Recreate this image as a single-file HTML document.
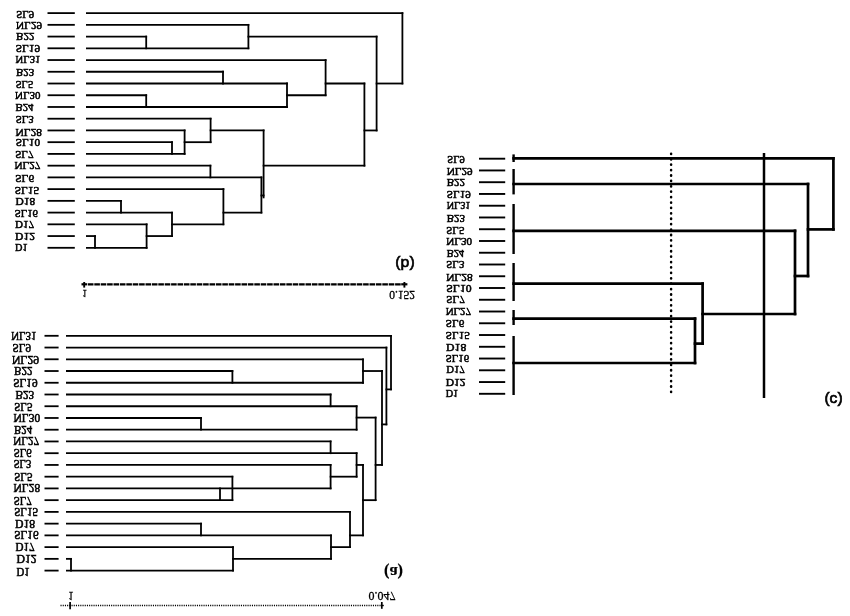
<!DOCTYPE html>
<html><head><meta charset="utf-8"><style>
html,body{margin:0;padding:0;background:#fff;}
svg{display:block;will-change:transform;}
</style></head><body>
<svg width="850" height="616" viewBox="0 0 850 616">
<rect width="850" height="616" fill="#fff"/>
<g stroke="#000" fill="none">
<line x1="47.50" y1="13.10" x2="74.80" y2="13.10" stroke-width="1.8" stroke-linecap="butt"/>
<line x1="86.90" y1="13.10" x2="402.40" y2="13.10" stroke-width="1.8" stroke-linecap="square"/>
<line x1="47.50" y1="24.84" x2="74.80" y2="24.84" stroke-width="1.8" stroke-linecap="butt"/>
<line x1="86.90" y1="24.84" x2="248.40" y2="24.84" stroke-width="1.8" stroke-linecap="square"/>
<line x1="47.50" y1="36.57" x2="74.80" y2="36.57" stroke-width="1.8" stroke-linecap="butt"/>
<line x1="86.90" y1="36.57" x2="146.20" y2="36.57" stroke-width="1.8" stroke-linecap="square"/>
<line x1="47.50" y1="48.30" x2="74.80" y2="48.30" stroke-width="1.8" stroke-linecap="butt"/>
<line x1="86.90" y1="48.30" x2="248.40" y2="48.30" stroke-width="1.8" stroke-linecap="square"/>
<line x1="47.50" y1="60.04" x2="74.80" y2="60.04" stroke-width="1.8" stroke-linecap="butt"/>
<line x1="86.90" y1="60.04" x2="325.60" y2="60.04" stroke-width="1.8" stroke-linecap="square"/>
<line x1="47.50" y1="71.77" x2="74.80" y2="71.77" stroke-width="1.8" stroke-linecap="butt"/>
<line x1="86.90" y1="71.77" x2="223.00" y2="71.77" stroke-width="1.8" stroke-linecap="square"/>
<line x1="47.50" y1="83.51" x2="74.80" y2="83.51" stroke-width="1.8" stroke-linecap="butt"/>
<line x1="86.90" y1="83.51" x2="287.00" y2="83.51" stroke-width="1.8" stroke-linecap="square"/>
<line x1="47.50" y1="95.24" x2="74.80" y2="95.24" stroke-width="1.8" stroke-linecap="butt"/>
<line x1="86.90" y1="95.24" x2="146.20" y2="95.24" stroke-width="1.8" stroke-linecap="square"/>
<line x1="47.50" y1="106.98" x2="74.80" y2="106.98" stroke-width="1.8" stroke-linecap="butt"/>
<line x1="86.90" y1="106.98" x2="287.00" y2="106.98" stroke-width="1.8" stroke-linecap="square"/>
<line x1="47.50" y1="118.71" x2="74.80" y2="118.71" stroke-width="1.8" stroke-linecap="butt"/>
<line x1="86.90" y1="118.71" x2="210.60" y2="118.71" stroke-width="1.8" stroke-linecap="square"/>
<line x1="47.50" y1="130.45" x2="74.80" y2="130.45" stroke-width="1.8" stroke-linecap="butt"/>
<line x1="86.90" y1="130.45" x2="184.60" y2="130.45" stroke-width="1.8" stroke-linecap="square"/>
<line x1="47.50" y1="142.18" x2="74.80" y2="142.18" stroke-width="1.8" stroke-linecap="butt"/>
<line x1="86.90" y1="142.18" x2="172.00" y2="142.18" stroke-width="1.8" stroke-linecap="square"/>
<line x1="47.50" y1="153.92" x2="74.80" y2="153.92" stroke-width="1.8" stroke-linecap="butt"/>
<line x1="86.90" y1="153.92" x2="184.60" y2="153.92" stroke-width="1.8" stroke-linecap="square"/>
<line x1="47.50" y1="165.66" x2="74.80" y2="165.66" stroke-width="1.8" stroke-linecap="butt"/>
<line x1="86.90" y1="165.66" x2="210.40" y2="165.66" stroke-width="1.8" stroke-linecap="square"/>
<line x1="47.50" y1="177.39" x2="74.80" y2="177.39" stroke-width="1.8" stroke-linecap="butt"/>
<line x1="86.90" y1="177.39" x2="261.40" y2="177.39" stroke-width="1.8" stroke-linecap="square"/>
<line x1="47.50" y1="189.12" x2="74.80" y2="189.12" stroke-width="1.8" stroke-linecap="butt"/>
<line x1="86.90" y1="189.12" x2="223.40" y2="189.12" stroke-width="1.8" stroke-linecap="square"/>
<line x1="47.50" y1="200.86" x2="74.80" y2="200.86" stroke-width="1.8" stroke-linecap="butt"/>
<line x1="86.90" y1="200.86" x2="121.00" y2="200.86" stroke-width="1.8" stroke-linecap="square"/>
<line x1="47.50" y1="212.59" x2="74.80" y2="212.59" stroke-width="1.8" stroke-linecap="butt"/>
<line x1="86.90" y1="212.59" x2="172.00" y2="212.59" stroke-width="1.8" stroke-linecap="square"/>
<line x1="47.50" y1="224.33" x2="74.80" y2="224.33" stroke-width="1.8" stroke-linecap="butt"/>
<line x1="86.90" y1="224.33" x2="146.60" y2="224.33" stroke-width="1.8" stroke-linecap="square"/>
<line x1="47.50" y1="236.06" x2="74.80" y2="236.06" stroke-width="1.8" stroke-linecap="butt"/>
<line x1="86.90" y1="236.06" x2="95.00" y2="236.06" stroke-width="1.8" stroke-linecap="square"/>
<line x1="47.50" y1="247.80" x2="74.80" y2="247.80" stroke-width="1.8" stroke-linecap="butt"/>
<line x1="86.90" y1="247.80" x2="146.60" y2="247.80" stroke-width="1.8" stroke-linecap="square"/>
<line x1="402.40" y1="13.10" x2="402.40" y2="83.51" stroke-width="1.8" stroke-linecap="square"/>
<line x1="376.60" y1="83.51" x2="402.40" y2="83.51" stroke-width="1.8" stroke-linecap="square"/>
<line x1="248.40" y1="24.84" x2="248.40" y2="48.30" stroke-width="1.8" stroke-linecap="square"/>
<line x1="146.20" y1="36.57" x2="146.20" y2="48.30" stroke-width="1.8" stroke-linecap="square"/>
<line x1="248.40" y1="36.57" x2="376.60" y2="36.57" stroke-width="1.8" stroke-linecap="square"/>
<line x1="376.60" y1="36.57" x2="376.60" y2="130.45" stroke-width="1.8" stroke-linecap="square"/>
<line x1="364.40" y1="130.45" x2="376.60" y2="130.45" stroke-width="1.8" stroke-linecap="square"/>
<line x1="364.40" y1="83.51" x2="364.40" y2="165.66" stroke-width="1.8" stroke-linecap="square"/>
<line x1="325.60" y1="83.51" x2="364.40" y2="83.51" stroke-width="1.8" stroke-linecap="square"/>
<line x1="325.60" y1="60.04" x2="325.60" y2="95.24" stroke-width="1.8" stroke-linecap="square"/>
<line x1="287.00" y1="95.24" x2="325.60" y2="95.24" stroke-width="1.8" stroke-linecap="square"/>
<line x1="287.00" y1="83.51" x2="287.00" y2="106.98" stroke-width="1.8" stroke-linecap="square"/>
<line x1="223.00" y1="71.77" x2="223.00" y2="83.51" stroke-width="1.8" stroke-linecap="square"/>
<line x1="146.20" y1="95.24" x2="146.20" y2="106.98" stroke-width="1.8" stroke-linecap="square"/>
<line x1="263.60" y1="165.66" x2="364.40" y2="165.66" stroke-width="1.8" stroke-linecap="square"/>
<line x1="263.60" y1="130.45" x2="263.60" y2="197.40" stroke-width="1.8" stroke-linecap="square"/>
<line x1="210.60" y1="130.45" x2="263.60" y2="130.45" stroke-width="1.8" stroke-linecap="square"/>
<line x1="210.60" y1="118.71" x2="210.60" y2="142.18" stroke-width="1.8" stroke-linecap="square"/>
<line x1="184.60" y1="142.18" x2="210.60" y2="142.18" stroke-width="1.8" stroke-linecap="square"/>
<line x1="184.60" y1="130.45" x2="184.60" y2="153.92" stroke-width="1.8" stroke-linecap="square"/>
<line x1="172.00" y1="142.18" x2="172.00" y2="153.92" stroke-width="1.8" stroke-linecap="square"/>
<line x1="210.40" y1="165.66" x2="210.40" y2="177.39" stroke-width="1.8" stroke-linecap="square"/>
<line x1="261.40" y1="177.39" x2="261.40" y2="212.59" stroke-width="1.8" stroke-linecap="square"/>
<line x1="261.40" y1="195.50" x2="263.60" y2="195.50" stroke-width="1.8" stroke-linecap="square"/>
<line x1="223.40" y1="212.59" x2="261.40" y2="212.59" stroke-width="1.8" stroke-linecap="square"/>
<line x1="223.40" y1="189.12" x2="223.40" y2="224.33" stroke-width="1.8" stroke-linecap="square"/>
<line x1="172.00" y1="224.33" x2="223.40" y2="224.33" stroke-width="1.8" stroke-linecap="square"/>
<line x1="172.00" y1="212.59" x2="172.00" y2="236.06" stroke-width="1.8" stroke-linecap="square"/>
<line x1="146.60" y1="236.06" x2="172.00" y2="236.06" stroke-width="1.8" stroke-linecap="square"/>
<line x1="146.60" y1="224.33" x2="146.60" y2="247.80" stroke-width="1.8" stroke-linecap="square"/>
<line x1="121.00" y1="200.86" x2="121.00" y2="212.59" stroke-width="1.8" stroke-linecap="square"/>
<line x1="95.00" y1="236.06" x2="95.00" y2="247.80" stroke-width="1.8" stroke-linecap="square"/>
<line x1="87.9" y1="284.3" x2="401.3" y2="284.3" stroke-width="2.2" stroke-dasharray="5.6 0.8"/>
<line x1="84.20" y1="282.00" x2="84.20" y2="287.60" stroke-width="1.9" stroke-linecap="butt"/>
<line x1="81.50" y1="284.30" x2="87.20" y2="284.30" stroke-width="2.2" stroke-linecap="butt"/>
<line x1="404.40" y1="282.00" x2="404.40" y2="287.60" stroke-width="1.9" stroke-linecap="butt"/>
<line x1="401.20" y1="284.30" x2="407.40" y2="284.30" stroke-width="2.2" stroke-linecap="butt"/>
<line x1="44.50" y1="335.80" x2="58.60" y2="335.80" stroke-width="1.8" stroke-linecap="butt"/>
<line x1="66.90" y1="335.80" x2="391.00" y2="335.80" stroke-width="1.8" stroke-linecap="square"/>
<line x1="44.50" y1="347.54" x2="58.60" y2="347.54" stroke-width="1.8" stroke-linecap="butt"/>
<line x1="66.90" y1="347.54" x2="386.40" y2="347.54" stroke-width="1.8" stroke-linecap="square"/>
<line x1="44.50" y1="359.28" x2="58.60" y2="359.28" stroke-width="1.8" stroke-linecap="butt"/>
<line x1="66.90" y1="359.28" x2="363.00" y2="359.28" stroke-width="1.8" stroke-linecap="square"/>
<line x1="44.50" y1="371.02" x2="58.60" y2="371.02" stroke-width="1.8" stroke-linecap="butt"/>
<line x1="66.90" y1="371.02" x2="232.40" y2="371.02" stroke-width="1.8" stroke-linecap="square"/>
<line x1="44.50" y1="382.76" x2="58.60" y2="382.76" stroke-width="1.8" stroke-linecap="butt"/>
<line x1="66.90" y1="382.76" x2="363.00" y2="382.76" stroke-width="1.8" stroke-linecap="square"/>
<line x1="44.50" y1="394.50" x2="58.60" y2="394.50" stroke-width="1.8" stroke-linecap="butt"/>
<line x1="66.90" y1="394.50" x2="330.60" y2="394.50" stroke-width="1.8" stroke-linecap="square"/>
<line x1="44.50" y1="406.24" x2="58.60" y2="406.24" stroke-width="1.8" stroke-linecap="butt"/>
<line x1="66.90" y1="406.24" x2="356.60" y2="406.24" stroke-width="1.8" stroke-linecap="square"/>
<line x1="44.50" y1="417.98" x2="58.60" y2="417.98" stroke-width="1.8" stroke-linecap="butt"/>
<line x1="66.90" y1="417.98" x2="201.00" y2="417.98" stroke-width="1.8" stroke-linecap="square"/>
<line x1="44.50" y1="429.72" x2="58.60" y2="429.72" stroke-width="1.8" stroke-linecap="butt"/>
<line x1="66.90" y1="429.72" x2="356.60" y2="429.72" stroke-width="1.8" stroke-linecap="square"/>
<line x1="44.50" y1="441.46" x2="58.60" y2="441.46" stroke-width="1.8" stroke-linecap="butt"/>
<line x1="66.90" y1="441.46" x2="330.60" y2="441.46" stroke-width="1.8" stroke-linecap="square"/>
<line x1="44.50" y1="453.20" x2="58.60" y2="453.20" stroke-width="1.8" stroke-linecap="butt"/>
<line x1="66.90" y1="453.20" x2="356.60" y2="453.20" stroke-width="1.8" stroke-linecap="square"/>
<line x1="44.50" y1="464.94" x2="58.60" y2="464.94" stroke-width="1.8" stroke-linecap="butt"/>
<line x1="66.90" y1="464.94" x2="330.60" y2="464.94" stroke-width="1.8" stroke-linecap="square"/>
<line x1="44.50" y1="476.68" x2="58.60" y2="476.68" stroke-width="1.8" stroke-linecap="butt"/>
<line x1="66.90" y1="476.68" x2="232.40" y2="476.68" stroke-width="1.8" stroke-linecap="square"/>
<line x1="44.50" y1="488.42" x2="58.60" y2="488.42" stroke-width="1.8" stroke-linecap="butt"/>
<line x1="66.90" y1="488.42" x2="330.60" y2="488.42" stroke-width="1.8" stroke-linecap="square"/>
<line x1="44.50" y1="500.16" x2="58.60" y2="500.16" stroke-width="1.8" stroke-linecap="butt"/>
<line x1="66.90" y1="500.16" x2="232.40" y2="500.16" stroke-width="1.8" stroke-linecap="square"/>
<line x1="44.50" y1="511.90" x2="58.60" y2="511.90" stroke-width="1.8" stroke-linecap="butt"/>
<line x1="66.90" y1="511.90" x2="350.00" y2="511.90" stroke-width="1.8" stroke-linecap="square"/>
<line x1="44.50" y1="523.64" x2="58.60" y2="523.64" stroke-width="1.8" stroke-linecap="butt"/>
<line x1="66.90" y1="523.64" x2="201.00" y2="523.64" stroke-width="1.8" stroke-linecap="square"/>
<line x1="44.50" y1="535.38" x2="58.60" y2="535.38" stroke-width="1.8" stroke-linecap="butt"/>
<line x1="66.90" y1="535.38" x2="331.00" y2="535.38" stroke-width="1.8" stroke-linecap="square"/>
<line x1="44.50" y1="547.12" x2="58.60" y2="547.12" stroke-width="1.8" stroke-linecap="butt"/>
<line x1="66.90" y1="547.12" x2="233.00" y2="547.12" stroke-width="1.8" stroke-linecap="square"/>
<line x1="44.50" y1="558.86" x2="58.60" y2="558.86" stroke-width="1.8" stroke-linecap="butt"/>
<line x1="66.90" y1="558.86" x2="71.00" y2="558.86" stroke-width="1.8" stroke-linecap="square"/>
<line x1="44.50" y1="570.60" x2="58.60" y2="570.60" stroke-width="1.8" stroke-linecap="butt"/>
<line x1="66.90" y1="570.60" x2="233.00" y2="570.60" stroke-width="1.8" stroke-linecap="square"/>
<line x1="391.00" y1="335.80" x2="391.00" y2="389.40" stroke-width="1.8" stroke-linecap="square"/>
<line x1="386.40" y1="389.40" x2="391.00" y2="389.40" stroke-width="1.8" stroke-linecap="square"/>
<line x1="386.40" y1="347.54" x2="386.40" y2="424.40" stroke-width="1.8" stroke-linecap="square"/>
<line x1="382.00" y1="424.40" x2="386.40" y2="424.40" stroke-width="1.8" stroke-linecap="square"/>
<line x1="382.00" y1="371.02" x2="382.00" y2="464.94" stroke-width="1.8" stroke-linecap="square"/>
<line x1="363.00" y1="371.02" x2="382.00" y2="371.02" stroke-width="1.8" stroke-linecap="square"/>
<line x1="363.00" y1="359.28" x2="363.00" y2="382.76" stroke-width="1.8" stroke-linecap="square"/>
<line x1="232.40" y1="371.02" x2="232.40" y2="382.76" stroke-width="1.8" stroke-linecap="square"/>
<line x1="375.60" y1="464.94" x2="382.00" y2="464.94" stroke-width="1.8" stroke-linecap="square"/>
<line x1="375.60" y1="417.60" x2="375.60" y2="500.16" stroke-width="1.8" stroke-linecap="square"/>
<line x1="356.60" y1="417.60" x2="375.60" y2="417.60" stroke-width="1.8" stroke-linecap="square"/>
<line x1="356.60" y1="406.24" x2="356.60" y2="429.72" stroke-width="1.8" stroke-linecap="square"/>
<line x1="330.60" y1="394.50" x2="330.60" y2="406.24" stroke-width="1.8" stroke-linecap="square"/>
<line x1="201.00" y1="417.98" x2="201.00" y2="429.72" stroke-width="1.8" stroke-linecap="square"/>
<line x1="363.00" y1="500.16" x2="375.60" y2="500.16" stroke-width="1.8" stroke-linecap="square"/>
<line x1="363.00" y1="464.94" x2="363.00" y2="535.38" stroke-width="1.8" stroke-linecap="square"/>
<line x1="356.60" y1="464.94" x2="363.00" y2="464.94" stroke-width="1.8" stroke-linecap="square"/>
<line x1="356.60" y1="453.20" x2="356.60" y2="476.68" stroke-width="1.8" stroke-linecap="square"/>
<line x1="330.60" y1="476.68" x2="356.60" y2="476.68" stroke-width="1.8" stroke-linecap="square"/>
<line x1="330.60" y1="441.46" x2="330.60" y2="453.20" stroke-width="1.8" stroke-linecap="square"/>
<line x1="330.60" y1="464.94" x2="330.60" y2="488.42" stroke-width="1.8" stroke-linecap="square"/>
<line x1="232.40" y1="476.68" x2="232.40" y2="500.16" stroke-width="1.8" stroke-linecap="square"/>
<line x1="220.00" y1="488.42" x2="220.00" y2="500.16" stroke-width="1.8" stroke-linecap="square"/>
<line x1="350.00" y1="535.38" x2="363.00" y2="535.38" stroke-width="1.8" stroke-linecap="square"/>
<line x1="350.00" y1="511.90" x2="350.00" y2="547.12" stroke-width="1.8" stroke-linecap="square"/>
<line x1="331.00" y1="547.12" x2="350.00" y2="547.12" stroke-width="1.8" stroke-linecap="square"/>
<line x1="331.00" y1="535.38" x2="331.00" y2="558.86" stroke-width="1.8" stroke-linecap="square"/>
<line x1="201.00" y1="523.64" x2="201.00" y2="535.38" stroke-width="1.8" stroke-linecap="square"/>
<line x1="233.00" y1="558.86" x2="331.00" y2="558.86" stroke-width="1.8" stroke-linecap="square"/>
<line x1="233.00" y1="547.12" x2="233.00" y2="570.60" stroke-width="1.8" stroke-linecap="square"/>
<line x1="71.00" y1="558.86" x2="71.00" y2="570.60" stroke-width="1.8" stroke-linecap="square"/>
<line x1="60.5" y1="605.5" x2="381" y2="605.5" stroke-width="1.4" stroke-dasharray="1.1 1.1"/>
<line x1="70.10" y1="602.00" x2="70.10" y2="609.20" stroke-width="1.7" stroke-linecap="butt"/>
<line x1="381.80" y1="602.00" x2="381.80" y2="608.80" stroke-width="1.7" stroke-linecap="butt"/>
<line x1="381.00" y1="605.50" x2="383.80" y2="605.50" stroke-width="1.4" stroke-linecap="butt"/>
<line x1="479.00" y1="158.70" x2="505.20" y2="158.70" stroke-width="1.9" stroke-linecap="butt"/>
<line x1="479.00" y1="170.45" x2="505.20" y2="170.45" stroke-width="1.9" stroke-linecap="butt"/>
<line x1="479.00" y1="182.21" x2="505.20" y2="182.21" stroke-width="1.9" stroke-linecap="butt"/>
<line x1="479.00" y1="193.96" x2="505.20" y2="193.96" stroke-width="1.9" stroke-linecap="butt"/>
<line x1="479.00" y1="205.72" x2="505.20" y2="205.72" stroke-width="1.9" stroke-linecap="butt"/>
<line x1="479.00" y1="217.47" x2="505.20" y2="217.47" stroke-width="1.9" stroke-linecap="butt"/>
<line x1="479.00" y1="229.23" x2="505.20" y2="229.23" stroke-width="1.9" stroke-linecap="butt"/>
<line x1="479.00" y1="240.99" x2="505.20" y2="240.99" stroke-width="1.9" stroke-linecap="butt"/>
<line x1="479.00" y1="252.74" x2="505.20" y2="252.74" stroke-width="1.9" stroke-linecap="butt"/>
<line x1="479.00" y1="264.50" x2="505.20" y2="264.50" stroke-width="1.9" stroke-linecap="butt"/>
<line x1="479.00" y1="276.25" x2="505.20" y2="276.25" stroke-width="1.9" stroke-linecap="butt"/>
<line x1="479.00" y1="288.00" x2="505.20" y2="288.00" stroke-width="1.9" stroke-linecap="butt"/>
<line x1="479.00" y1="299.76" x2="505.20" y2="299.76" stroke-width="1.9" stroke-linecap="butt"/>
<line x1="479.00" y1="311.51" x2="505.20" y2="311.51" stroke-width="1.9" stroke-linecap="butt"/>
<line x1="479.00" y1="323.27" x2="505.20" y2="323.27" stroke-width="1.9" stroke-linecap="butt"/>
<line x1="479.00" y1="335.02" x2="505.20" y2="335.02" stroke-width="1.9" stroke-linecap="butt"/>
<line x1="479.00" y1="346.78" x2="505.20" y2="346.78" stroke-width="1.9" stroke-linecap="butt"/>
<line x1="479.00" y1="358.53" x2="505.20" y2="358.53" stroke-width="1.9" stroke-linecap="butt"/>
<line x1="479.00" y1="370.29" x2="505.20" y2="370.29" stroke-width="1.9" stroke-linecap="butt"/>
<line x1="479.00" y1="382.05" x2="505.20" y2="382.05" stroke-width="1.9" stroke-linecap="butt"/>
<line x1="479.00" y1="393.80" x2="505.20" y2="393.80" stroke-width="1.9" stroke-linecap="butt"/>
<line x1="513.60" y1="154.40" x2="513.60" y2="162.00" stroke-width="2.4" stroke-linecap="butt"/>
<line x1="513.60" y1="169.00" x2="513.60" y2="194.40" stroke-width="2.4" stroke-linecap="butt"/>
<line x1="513.60" y1="204.00" x2="513.60" y2="254.00" stroke-width="2.4" stroke-linecap="butt"/>
<line x1="513.60" y1="263.00" x2="513.60" y2="301.00" stroke-width="2.4" stroke-linecap="butt"/>
<line x1="513.60" y1="310.00" x2="513.60" y2="325.00" stroke-width="2.4" stroke-linecap="butt"/>
<line x1="513.60" y1="336.00" x2="513.60" y2="395.00" stroke-width="2.4" stroke-linecap="butt"/>
<line x1="513.60" y1="158.40" x2="833.40" y2="158.40" stroke-width="2.7" stroke-linecap="square"/>
<line x1="513.60" y1="184.00" x2="808.00" y2="184.00" stroke-width="2.7" stroke-linecap="square"/>
<line x1="513.60" y1="230.80" x2="795.00" y2="230.80" stroke-width="2.7" stroke-linecap="square"/>
<line x1="513.60" y1="283.60" x2="702.60" y2="283.60" stroke-width="2.7" stroke-linecap="square"/>
<line x1="513.60" y1="318.60" x2="695.00" y2="318.60" stroke-width="2.7" stroke-linecap="square"/>
<line x1="513.60" y1="363.00" x2="695.00" y2="363.00" stroke-width="2.7" stroke-linecap="square"/>
<line x1="833.40" y1="158.40" x2="833.40" y2="229.40" stroke-width="2.7" stroke-linecap="square"/>
<line x1="808.00" y1="229.40" x2="833.40" y2="229.40" stroke-width="2.7" stroke-linecap="square"/>
<line x1="808.00" y1="184.00" x2="808.00" y2="276.00" stroke-width="2.7" stroke-linecap="square"/>
<line x1="795.00" y1="276.00" x2="808.00" y2="276.00" stroke-width="2.7" stroke-linecap="square"/>
<line x1="795.00" y1="230.80" x2="795.00" y2="314.00" stroke-width="2.7" stroke-linecap="square"/>
<line x1="702.60" y1="314.00" x2="795.00" y2="314.00" stroke-width="2.7" stroke-linecap="square"/>
<line x1="702.60" y1="283.60" x2="702.60" y2="343.60" stroke-width="2.7" stroke-linecap="square"/>
<line x1="695.00" y1="343.60" x2="702.60" y2="343.60" stroke-width="2.7" stroke-linecap="square"/>
<line x1="695.00" y1="318.60" x2="695.00" y2="363.00" stroke-width="2.7" stroke-linecap="square"/>
<line x1="671.1" y1="153.7" x2="671.1" y2="396" stroke-width="2.5" stroke-linecap="round" stroke-dasharray="0.3 5.11"/>
<line x1="764.00" y1="153.00" x2="764.00" y2="398.00" stroke-width="2.5" stroke-linecap="butt"/>
</g>
<g fill="#000">
<text transform="translate(16.17,10.59) scale(0.970,-1)" font-family="Liberation Serif" font-weight="normal" font-size="11.20" stroke="#000" stroke-width="0.55">SL9</text>
<text transform="translate(16.04,21.79) scale(0.998,-1)" font-family="Liberation Serif" font-weight="normal" font-size="11.20" stroke="#000" stroke-width="0.55">NL29</text>
<text transform="translate(16.04,33.38) scale(0.986,-1)" font-family="Liberation Serif" font-weight="normal" font-size="11.20" stroke="#000" stroke-width="0.55">B22</text>
<text transform="translate(15.64,45.19) scale(1.012,-1)" font-family="Liberation Serif" font-weight="normal" font-size="11.20" stroke="#000" stroke-width="0.55">SL19</text>
<text transform="translate(15.56,56.39) scale(0.951,-1)" font-family="Liberation Serif" font-weight="normal" font-size="11.20" stroke="#000" stroke-width="0.55">NL31</text>
<text transform="translate(16.05,68.99) scale(0.974,-1)" font-family="Liberation Serif" font-weight="normal" font-size="11.20" stroke="#000" stroke-width="0.55">B23</text>
<text transform="translate(15.69,80.69) scale(0.938,-1)" font-family="Liberation Serif" font-weight="normal" font-size="11.20" stroke="#000" stroke-width="0.55">SL5</text>
<text transform="translate(15.05,92.39) scale(0.976,-1)" font-family="Liberation Serif" font-weight="normal" font-size="11.20" stroke="#000" stroke-width="0.55">NL30</text>
<text transform="translate(15.55,103.98) scale(0.962,-1)" font-family="Liberation Serif" font-weight="normal" font-size="11.20" stroke="#000" stroke-width="0.55">B24</text>
<text transform="translate(15.67,115.79) scale(0.967,-1)" font-family="Liberation Serif" font-weight="normal" font-size="11.20" stroke="#000" stroke-width="0.55">SL3</text>
<text transform="translate(15.53,128.89) scale(1.015,-1)" font-family="Liberation Serif" font-weight="normal" font-size="11.20" stroke="#000" stroke-width="0.55">NL28</text>
<text transform="translate(15.64,139.19) scale(1.010,-1)" font-family="Liberation Serif" font-weight="normal" font-size="11.20" stroke="#000" stroke-width="0.55">SL10</text>
<text transform="translate(15.15,151.29) scale(0.989,-1)" font-family="Liberation Serif" font-weight="normal" font-size="11.20" stroke="#000" stroke-width="0.55">SL7</text>
<text transform="translate(14.54,162.38) scale(0.991,-1)" font-family="Liberation Serif" font-weight="normal" font-size="11.20" stroke="#000" stroke-width="0.55">NL27</text>
<text transform="translate(15.13,175.09) scale(1.018,-1)" font-family="Liberation Serif" font-weight="normal" font-size="11.20" stroke="#000" stroke-width="0.55">SL6</text>
<text transform="translate(14.64,186.79) scale(1.010,-1)" font-family="Liberation Serif" font-weight="normal" font-size="11.20" stroke="#000" stroke-width="0.55">SL15</text>
<text transform="translate(15.53,198.49) scale(1.022,-1)" font-family="Liberation Serif" font-weight="normal" font-size="11.20" stroke="#000" stroke-width="0.55">D18</text>
<text transform="translate(14.67,209.69) scale(0.962,-1)" font-family="Liberation Serif" font-weight="normal" font-size="11.20" stroke="#000" stroke-width="0.55">SL16</text>
<text transform="translate(15.04,220.88) scale(0.989,-1)" font-family="Liberation Serif" font-weight="normal" font-size="11.20" stroke="#000" stroke-width="0.55">D17</text>
<text transform="translate(15.03,232.58) scale(1.035,-1)" font-family="Liberation Serif" font-weight="normal" font-size="11.20" stroke="#000" stroke-width="0.55">D12</text>
<text transform="translate(15.07,244.28) scale(0.921,-1)" font-family="Liberation Serif" font-weight="normal" font-size="11.20" stroke="#000" stroke-width="0.55">D1</text>
<text transform="translate(82.29,289.55) scale(0.850,-1)" font-family="Liberation Serif" font-weight="normal" font-size="11.30" stroke="#000" stroke-width="0.3">1</text>
<text transform="translate(389.19,290.62) scale(0.991,-1)" font-family="Liberation Serif" font-weight="normal" font-size="11.62" stroke="#000" stroke-width="0.3">0.152</text>
<text transform="translate(395.35,259.31) scale(1.104,-1)" font-family="Liberation Sans" font-weight="normal" font-size="14.33" stroke="#000" stroke-width="0.6">(b)</text>
<text transform="translate(11.15,331.69) scale(0.913,-1)" font-family="Liberation Serif" font-weight="normal" font-size="11.90" stroke="#000" stroke-width="0.55">NL31</text>
<text transform="translate(12.55,344.09) scale(0.940,-1)" font-family="Liberation Serif" font-weight="normal" font-size="11.90" stroke="#000" stroke-width="0.55">SL9</text>
<text transform="translate(11.92,355.79) scale(0.983,-1)" font-family="Liberation Serif" font-weight="normal" font-size="11.90" stroke="#000" stroke-width="0.55">NL29</text>
<text transform="translate(14.04,366.57) scale(0.933,-1)" font-family="Liberation Serif" font-weight="normal" font-size="11.90" stroke="#000" stroke-width="0.55">B22</text>
<text transform="translate(13.14,378.89) scale(0.953,-1)" font-family="Liberation Serif" font-weight="normal" font-size="11.90" stroke="#000" stroke-width="0.55">SL19</text>
<text transform="translate(15.54,391.19) scale(0.943,-1)" font-family="Liberation Serif" font-weight="normal" font-size="11.90" stroke="#000" stroke-width="0.55">B23</text>
<text transform="translate(14.17,402.89) scale(0.916,-1)" font-family="Liberation Serif" font-weight="normal" font-size="11.90" stroke="#000" stroke-width="0.55">SL5</text>
<text transform="translate(13.53,414.19) scale(0.959,-1)" font-family="Liberation Serif" font-weight="normal" font-size="11.90" stroke="#000" stroke-width="0.55">NL30</text>
<text transform="translate(14.05,425.67) scale(0.910,-1)" font-family="Liberation Serif" font-weight="normal" font-size="11.90" stroke="#000" stroke-width="0.55">B24</text>
<text transform="translate(13.14,437.38) scale(0.933,-1)" font-family="Liberation Serif" font-weight="normal" font-size="11.90" stroke="#000" stroke-width="0.55">NL27</text>
<text transform="translate(13.67,449.19) scale(0.910,-1)" font-family="Liberation Serif" font-weight="normal" font-size="11.90" stroke="#000" stroke-width="0.55">SL6</text>
<text transform="translate(13.69,460.39) scale(0.889,-1)" font-family="Liberation Serif" font-weight="normal" font-size="11.90" stroke="#000" stroke-width="0.55">SL3</text>
<text transform="translate(14.17,472.59) scale(0.916,-1)" font-family="Liberation Serif" font-weight="normal" font-size="11.90" stroke="#000" stroke-width="0.55">SL5</text>
<text transform="translate(13.53,484.29) scale(0.959,-1)" font-family="Liberation Serif" font-weight="normal" font-size="11.90" stroke="#000" stroke-width="0.55">NL28</text>
<text transform="translate(13.67,497.19) scale(0.910,-1)" font-family="Liberation Serif" font-weight="normal" font-size="11.90" stroke="#000" stroke-width="0.55">SL7</text>
<text transform="translate(14.16,507.89) scale(0.930,-1)" font-family="Liberation Serif" font-weight="normal" font-size="11.90" stroke="#000" stroke-width="0.55">SL15</text>
<text transform="translate(15.02,519.59) scale(0.988,-1)" font-family="Liberation Serif" font-weight="normal" font-size="11.90" stroke="#000" stroke-width="0.55">D18</text>
<text transform="translate(14.14,531.29) scale(0.946,-1)" font-family="Liberation Serif" font-weight="normal" font-size="11.90" stroke="#000" stroke-width="0.55">SL16</text>
<text transform="translate(15.54,542.77) scale(0.931,-1)" font-family="Liberation Serif" font-weight="normal" font-size="11.90" stroke="#000" stroke-width="0.55">D17</text>
<text transform="translate(16.52,555.38) scale(0.984,-1)" font-family="Liberation Serif" font-weight="normal" font-size="11.90" stroke="#000" stroke-width="0.55">D12</text>
<text transform="translate(16.55,568.27) scale(0.904,-1)" font-family="Liberation Serif" font-weight="normal" font-size="11.90" stroke="#000" stroke-width="0.55">D1</text>
<text transform="translate(68.20,592.15) scale(0.899,-1)" font-family="Liberation Serif" font-weight="normal" font-size="11.76" stroke="#000" stroke-width="0.3">1</text>
<text transform="translate(368.57,591.94) scale(0.947,-1)" font-family="Liberation Serif" font-weight="normal" font-size="12.65" stroke="#000" stroke-width="0.3">0.047</text>
<text transform="translate(383.96,566.51) scale(1.009,-1)" font-family="Liberation Serif" font-weight="bold" font-size="16.22" stroke="#000" stroke-width="0.2">(a)</text>
<text transform="translate(447.29,156.19) scale(0.950,-1)" font-family="Liberation Serif" font-weight="normal" font-size="11.10" stroke="#000" stroke-width="0.55">SL9</text>
<text transform="translate(446.64,167.89) scale(1.007,-1)" font-family="Liberation Serif" font-weight="normal" font-size="11.10" stroke="#000" stroke-width="0.55">NL29</text>
<text transform="translate(446.64,179.08) scale(0.995,-1)" font-family="Liberation Serif" font-weight="normal" font-size="11.10" stroke="#000" stroke-width="0.55">B22</text>
<text transform="translate(446.75,190.79) scale(0.999,-1)" font-family="Liberation Serif" font-weight="normal" font-size="11.10" stroke="#000" stroke-width="0.55">SL19</text>
<text transform="translate(446.67,202.49) scale(0.919,-1)" font-family="Liberation Serif" font-weight="normal" font-size="11.10" stroke="#000" stroke-width="0.55">NL31</text>
<text transform="translate(446.65,215.09) scale(0.983,-1)" font-family="Liberation Serif" font-weight="normal" font-size="11.10" stroke="#000" stroke-width="0.55">B23</text>
<text transform="translate(446.27,226.79) scale(0.976,-1)" font-family="Liberation Serif" font-weight="normal" font-size="11.10" stroke="#000" stroke-width="0.55">SL5</text>
<text transform="translate(446.14,238.09) scale(1.004,-1)" font-family="Liberation Serif" font-weight="normal" font-size="11.10" stroke="#000" stroke-width="0.55">NL30</text>
<text transform="translate(446.66,249.58) scale(0.943,-1)" font-family="Liberation Serif" font-weight="normal" font-size="11.10" stroke="#000" stroke-width="0.55">B24</text>
<text transform="translate(446.27,261.39) scale(0.976,-1)" font-family="Liberation Serif" font-weight="normal" font-size="11.10" stroke="#000" stroke-width="0.55">SL3</text>
<text transform="translate(446.13,273.99) scale(1.024,-1)" font-family="Liberation Serif" font-weight="normal" font-size="11.10" stroke="#000" stroke-width="0.55">NL28</text>
<text transform="translate(446.21,284.79) scale(1.058,-1)" font-family="Liberation Serif" font-weight="normal" font-size="11.10" stroke="#000" stroke-width="0.55">SL10</text>
<text transform="translate(446.25,296.49) scale(0.998,-1)" font-family="Liberation Serif" font-weight="normal" font-size="11.10" stroke="#000" stroke-width="0.55">SL7</text>
<text transform="translate(445.65,308.07) scale(0.980,-1)" font-family="Liberation Serif" font-weight="normal" font-size="11.10" stroke="#000" stroke-width="0.55">NL27</text>
<text transform="translate(445.75,320.29) scale(0.998,-1)" font-family="Liberation Serif" font-weight="normal" font-size="11.10" stroke="#000" stroke-width="0.55">SL6</text>
<text transform="translate(445.76,331.99) scale(0.997,-1)" font-family="Liberation Serif" font-weight="normal" font-size="11.10" stroke="#000" stroke-width="0.55">SL15</text>
<text transform="translate(446.12,343.69) scale(1.059,-1)" font-family="Liberation Serif" font-weight="normal" font-size="11.10" stroke="#000" stroke-width="0.55">D18</text>
<text transform="translate(445.77,354.89) scale(0.970,-1)" font-family="Liberation Serif" font-weight="normal" font-size="11.10" stroke="#000" stroke-width="0.55">SL16</text>
<text transform="translate(446.15,366.47) scale(0.971,-1)" font-family="Liberation Serif" font-weight="normal" font-size="11.10" stroke="#000" stroke-width="0.55">D17</text>
<text transform="translate(445.63,378.57) scale(1.044,-1)" font-family="Liberation Serif" font-weight="normal" font-size="11.10" stroke="#000" stroke-width="0.55">D12</text>
<text transform="translate(445.67,390.27) scale(0.929,-1)" font-family="Liberation Serif" font-weight="normal" font-size="11.10" stroke="#000" stroke-width="0.55">D1</text>
<text transform="translate(824.41,394.76) scale(1.020,-1)" font-family="Liberation Sans" font-weight="normal" font-size="15.29" stroke="#000" stroke-width="0.7">(c)</text>
</g>
</svg>
</body></html>
